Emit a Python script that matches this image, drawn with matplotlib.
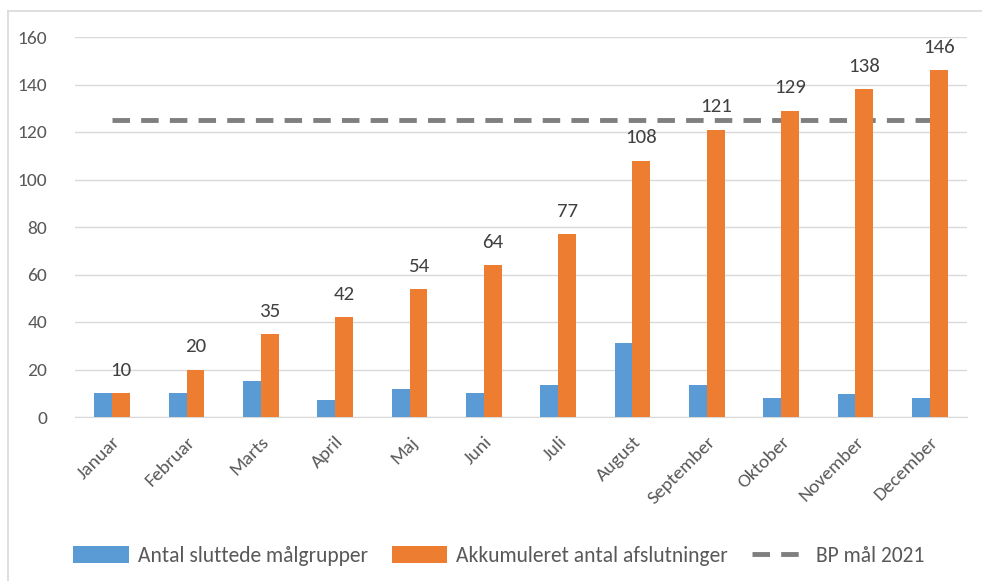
import matplotlib
matplotlib.use("Agg")
import matplotlib.pyplot as plt
from matplotlib.lines import Line2D
import numpy as np

months = ["Januar", "Februar", "Marts", "April", "Maj", "Juni", "Juli",
          "August", "September", "Oktober", "November", "December"]
sluttede = [10, 10, 15, 7, 12, 10, 13.5, 31, 13.5, 8, 9.5, 8]
akkumuleret = [10, 20, 35, 42, 54, 64, 77, 108, 121, 129, 138, 146]
bp_maal = [125] * 12
yticks = [0, 20, 40, 60, 80, 100, 120, 140, 160]

plt.rcParams['font.family'] = ['Carlito', 'Lato', 'DejaVu Sans']
txt = '#595959'
blue = '#5b9bd5'
orange = '#ed7d31'
gray = '#7f7f7f'

fig = plt.figure(figsize=(9.82, 5.81), dpi=100)
ax = fig.add_axes([75/982, 1-417/581, (967-75)/982, (417-37)/581])

x = np.arange(len(months))
w = 0.24
b1 = ax.bar(x - w/2, sluttede, w, color=blue, label='Antal sluttede målgrupper', zorder=3)
b2 = ax.bar(x + w/2, akkumuleret, w, color=orange, label='Akkumuleret antal afslutninger', zorder=3)
l1, = ax.plot(x, bp_maal, color=gray, lw=3.5, dashes=(3.6, 2.3), label='BP mål 2021', zorder=2)

for xi, v in zip(x, akkumuleret):
    ax.text(xi + w/2, v + 6, f"{v}", ha='center', va='bottom', fontsize=15,
            color='#404040', clip_on=False)

ax.set_xlim(-0.5, 11.5)
ax.set_ylim(0, 160)
ax.set_yticks(yticks)
ax.set_yticklabels([str(t) for t in yticks])
ax.set_xticks(x)
ax.set_xticklabels(months, rotation=45, ha='right', rotation_mode='anchor')
ax.tick_params(axis='both', length=0, colors=txt, labelsize=14)
ax.tick_params(axis='y', pad=20)
ax.tick_params(axis='x', pad=12)
ax.grid(axis='y', color='#d9d9d9', lw=1, zorder=0)
for s in ['top', 'right', 'left']:
    ax.spines[s].set_visible(False)
ax.spines['bottom'].set_color('#d9d9d9')

leg = fig.legend(handles=[b1, b2, l1], loc='center', bbox_to_anchor=(0.508, 1-556/581), ncol=3,
                 frameon=False, fontsize=15.5, handlelength=2.6, handleheight=0.8,
                 columnspacing=1.1, handletextpad=0.4)
for t in leg.get_texts():
    t.set_color(txt)

# figure frame (left and top)
fig.add_artist(Line2D([8/982, 8/982], [0, 1-11/581], color='#d9d9d9', lw=1.2))
fig.add_artist(Line2D([8/982, 1], [1-11/581, 1-11/581], color='#d9d9d9', lw=1.2))

fig.savefig('out.png', dpi=100)
